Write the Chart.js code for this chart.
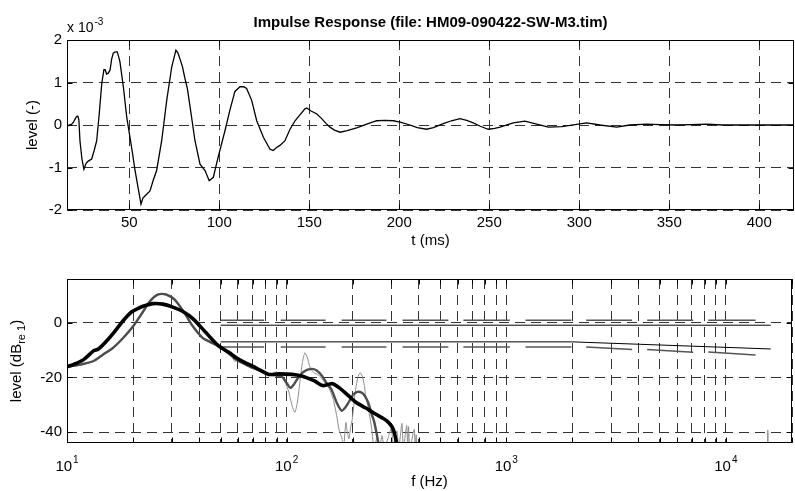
<!DOCTYPE html>
<html><head><meta charset="utf-8">
<script src="https://cdn.jsdelivr.net/npm/chart.js@4/dist/chart.umd.min.js"></script>
<style>
html,body{margin:0;padding:0;background:#fff;}
#top{position:absolute;left:0;top:0;width:795px;height:250px;}
#bot{position:absolute;left:0;top:250px;width:795px;height:241px;}
</style></head><body>
<div id="top"><canvas id="c1"></canvas></div>
<div id="bot"><canvas id="c2"></canvas></div>
<script>
// ---------- top: impulse response (level in units of 10^-3) ----------
const timeMs = [15.4,16.5,18.0,18.9,20.0,20.8,21.4,22.0,22.6,23.7,24.8,26.0,27.2,29.1,30.5,31.9,33.3,34.7,35.9,36.6,37.4,38.3,39.3,40.2,41.1,42.2,43.3,44.0,44.8,46.7,48.6,50.4,51.8,53.2,54.8,56.5,57.6,58.7,61.5,63.3,65.2,68.0,70.8,73.6,75.9,77.0,78.2,79.5,80.9,82.3,83.7,86.5,89.3,92.1,94.4,96.7,99.4,103.2,105.9,108.7,111.5,113.5,115.2,118.0,120.8,124.5,128.2,130.0,131.8,133.7,136.5,139.3,142.1,144.8,147.6,148.6,151.0,154.2,156.9,159.0,161.5,164.0,167.1,171.0,176.3,181.9,187.4,192.0,196.7,201.0,205.9,210.0,215.2,219.0,224.4,229.0,233.7,237.5,241.1,245.0,249.4,253.0,256.0,263.3,269.8,276.3,282.8,290.2,295.0,299.4,304.1,311.5,320.8,328.0,337.4,344.8,354.0,362.0,370.7,380.0,400.0,419.3];
const impulseLevel = [-0.04,0.0,0.02,0.06,0.15,0.2,0.21,0.12,-0.37,-0.8,-1.04,-0.9,-0.85,-0.8,-0.6,-0.37,0.26,0.97,1.3,1.3,1.2,1.22,1.29,1.55,1.69,1.72,1.72,1.62,1.49,0.9,0.18,-0.29,-0.67,-1.07,-1.45,-1.86,-1.72,-1.67,-1.55,-1.3,-1.07,-0.37,0.58,1.37,1.76,1.7,1.55,1.38,1.1,0.85,0.45,-0.37,-0.92,-1.07,-1.31,-1.23,-0.75,-0.13,0.35,0.79,0.9,0.9,0.86,0.58,0.1,-0.29,-0.57,-0.6,-0.53,-0.48,-0.37,-0.1,0.1,0.24,0.38,0.4,0.33,0.26,0.15,0.05,-0.05,-0.12,-0.17,-0.13,-0.07,0.02,0.1,0.11,0.1,0.06,0.0,-0.06,-0.1,-0.06,0.03,0.1,0.15,0.11,0.05,-0.03,-0.1,-0.08,-0.05,0.05,0.09,0.02,-0.05,-0.04,-0.01,0.02,0.05,0.0,-0.05,0.0,0.02,0.01,0.0,0.01,0.02,0.0,0.0,0.0];
const timeTicks = [50,100,150,200,250,300,350,400];
const levelTicks = [-2,-1,0,1,2];

// ---------- bottom: frequency response ----------
const freqRaw = [10,11.5,13.2,14.6,16.2,18,20,22.2,23.8,25.9,28.3,30.9,34.3,37.4,41.5,44.5,48.9,53,56,58,60,63,66,70,74,78,83,87,90,94,98,102,106,109,112,115,118,121,124,128,133,140,148,156,163,169,173,178,182,186,189,192,196,199,203,206,211,216,221,226,229,236,244,250,258,264,272,278,290,300,306,312,318,324,335,340,352,356,359,364,381,385,389,393,420];
const levelRaw = [-16.3,-15.5,-14.2,-11.9,-9.5,-5.9,-1.6,3.7,7.5,10.4,10.6,9.0,3.8,-1.0,-5.3,-6.6,-8.4,-10.5,-12.0,-14.2,-13.4,-14.5,-15.8,-16.2,-16.8,-17.6,-19.4,-18.5,-18.0,-19.5,-21.5,-25,-30.5,-32.8,-29,-21.5,-14.5,-11.0,-12.5,-16.5,-18.3,-19.2,-21.5,-24,-28,-34,-38.9,-42,-45,-36.5,-40,-42.5,-38,-35.3,-29,-24.4,-20,-18.3,-19.5,-23,-26.8,-31.6,-38.9,-46,-42,-46,-41.3,-46,-42,-38.6,-46,-41,-39.6,-46,-36.8,-46,-37.6,-46,-38,-46,-39,-46,-41,-46,-46];
const freqSmooth = [10,11.5,13.2,14.6,16.2,18,20,22.2,23.8,25.9,28.3,30.9,34.3,37.4,41.5,44.5,48.9,55,59,64,70,76,83,90,95.5,100,104,108,113,120,130,137,145,152,160,169,178,185,192,200,210,220,228,236,244,250,258,264];
const levelSmooth = [-16.1,-15.3,-14,-11.6,-9.2,-5.6,-1.3,4.1,7.8,10.3,10.3,8.4,3.5,-1.3,-5.6,-6.9,-8.6,-11.5,-13.5,-15,-16.5,-17.5,-18.9,-19.3,-19.8,-22,-23.8,-22.5,-20.1,-17.8,-16.9,-17.5,-19.5,-22,-24.4,-29.2,-32.2,-31,-29,-26.5,-25.3,-25.6,-27,-29.5,-33.5,-36,-41.3,-46];
const freqOct = [10,10.7,11.9,13.2,13.9,15.1,16.3,17.5,18.6,19.7,21,22.3,24.6,27.3,30.3,33.7,37.4,42.9,48.9,55,59,64,70,76,83,92,106,117,125,134,146,154,162,175,190,206,221,236,254,271,285,297,306,313,320];
const levelOct = [-16.1,-15.3,-13.5,-10.3,-9.6,-6.8,-3.7,-0.5,2.0,4.0,5.2,6.1,7.0,6.8,5.7,4.1,1.5,-3.6,-8.4,-11.0,-12.8,-14.4,-15.9,-17.4,-18.9,-18.7,-18.9,-19.5,-20.3,-21.3,-23.0,-22.6,-22.3,-24.0,-26.5,-29.0,-30.5,-31.8,-33.4,-34.7,-35.8,-37.3,-39.0,-42.0,-46];
const spikeFreq = [15450,15500,15550];
const spikeLevel = [-46,-39.3,-46];
const limitFreq = [50,2000,16000];
const limitUpper = [-0.9,-0.9,-0.9];
const limitLower = [-7,-7,-9.6];
const bandStart = [50,94,178,337,638,1224,2312,4380,8318];
const bandEnd = [79,150.5,284.6,545,1038,1980,3743,7100,13650];
const bandUpper = [0.9,0.9,0.9,0.9,0.9,0.9,0.9,0.9,0.9];
const bandLowerStart = [-8.9,-8.9,-8.9,-8.9,-8.9,-8.9,-8.9,-9.8,-10.7];
const bandLowerEnd = [-8.9,-8.9,-8.9,-8.9,-8.9,-8.9,-9.8,-10.8,-11.8];
const freqTicks = [10,20,30,40,50,60,70,80,90,100,200,300,400,500,600,700,800,900,1000,2000,3000,4000,5000,6000,7000,8000,9000,10000,20000];
const decadeTicks = [10,100,1000,10000];
const decadeExp = ['1','2','3','4'];
const dbTicks = [-40,-20,0];

const FONT = "'Liberation Sans', Arial, Helvetica, sans-serif";
Chart.defaults.font.family = FONT;
Chart.defaults.font.size = 15;
Chart.defaults.color = '#000';
const GRID = '#333';
const DASH = [10, 6];

const pts = (xs, ys) => xs.map((x, i) => ({x: x, y: ys[i]}));
function segs(starts, ends, y0, y1) {
  const out = [];
  starts.forEach((s, i) => { out.push({x: s, y: y0[i]}, {x: ends[i], y: y1[i]}, {x: ends[i], y: null}); });
  return out;
}

function drawBoxAndTicks(chart) {
  const {ctx, chartArea: a, scales} = chart;
  const L = Math.round(a.left) + 0.5, R = Math.round(a.right) - 0.5;
  const T = Math.round(a.top) + 0.5, B = Math.round(a.bottom) - 0.5;
  ctx.save();
  ctx.strokeStyle = '#000';
  ctx.lineWidth = 1;
  ctx.setLineDash([]);
  ctx.beginPath();
  scales.x.ticks.forEach(t => {
    const px = Math.round(scales.x.getPixelForValue(t.value)) + 0.5;
    ctx.moveTo(px, B); ctx.lineTo(px, B - 5);
    ctx.moveTo(px, T); ctx.lineTo(px, T + 5);
  });
  scales.y.ticks.forEach(t => {
    const py = Math.round(scales.y.getPixelForValue(t.value)) + 0.5;
    ctx.moveTo(L, py); ctx.lineTo(L + 5, py);
    ctx.moveTo(R, py); ctx.lineTo(R - 5, py);
  });
  ctx.stroke();
  ctx.strokeRect(L, T, R - L, B - T);
  ctx.restore();
}

const topPlugin = {
  id: 'topDeco',
  afterDraw(chart) {
    drawBoxAndTicks(chart);
    const {ctx, chartArea: a} = chart;
    ctx.save();
    ctx.fillStyle = '#000';
    ctx.textBaseline = 'alphabetic';
    ctx.textAlign = 'left';
    ctx.font = '14px ' + FONT;
    const base = 'x 10';
    ctx.fillText(base, a.left, a.top - 8);
    const w = ctx.measureText(base).width;
    ctx.font = '10px ' + FONT;
    ctx.fillText('-3', a.left + w + 1, a.top - 15);
    ctx.restore();
  }
};

const botPlugin = {
  id: 'botDeco',
  afterDraw(chart) {
    drawBoxAndTicks(chart);
    const {ctx, chartArea: a, scales} = chart;
    ctx.save();
    ctx.fillStyle = '#000';
    ctx.textBaseline = 'alphabetic';
    ctx.textAlign = 'left';
    decadeTicks.forEach((v, i) => {
      const px = scales.x.getPixelForValue(v);
      ctx.font = '15px ' + FONT;
      const w1 = ctx.measureText('10').width;
      ctx.font = '10px ' + FONT;
      const w2 = ctx.measureText(decadeExp[i]).width;
      const x0 = px - (w1 + w2 + 1) / 2;
      ctx.font = '15px ' + FONT;
      ctx.fillText('10', x0, a.bottom + 27.5);
      ctx.font = '10px ' + FONT;
      ctx.fillText(decadeExp[i], x0 + w1 + 1, a.bottom + 20);
    });
    // y axis title with subscript
    const yc = (a.top + a.bottom) / 2;
    ctx.translate(21, yc);
    ctx.rotate(-Math.PI / 2);
    ctx.font = '15px ' + FONT;
    const t1 = 'level (dB', t3 = ')';
    const w1 = ctx.measureText(t1).width, w3 = ctx.measureText(t3).width;
    ctx.font = '11px ' + FONT;
    const t2 = 're 1';
    const w2 = ctx.measureText(t2).width;
    let x = -(w1 + w2 + w3) / 2;
    ctx.font = '15px ' + FONT;
    ctx.fillText(t1, x, 0);
    ctx.font = '11px ' + FONT;
    ctx.fillText(t2, x + w1, 3.5);
    ctx.font = '15px ' + FONT;
    ctx.fillText(t3, x + w1 + w2, 0);
    ctx.restore();
  }
};

new Chart(document.getElementById('c1'), {
  type: 'line',
  data: { datasets: [{ data: pts(timeMs, impulseLevel), borderColor: '#000', borderWidth: 1.3, pointRadius: 0, tension: 0, clip: 0 }] },
  options: {
    animation: false, responsive: true, maintainAspectRatio: false,
    layout: { padding: { left: 0, right: 1, top: 0, bottom: 0 } },
    plugins: {
      legend: { display: false }, tooltip: { enabled: false },
      title: { display: true, text: 'Impulse Response (file: HM09-090422-SW-M3.tim)', fullSize: false,
               font: { size: 15, weight: 'bold' }, color: '#000', padding: { top: 14, bottom: 8 } }
    },
    scales: {
      x: {
        type: 'linear', min: 15.4, max: 419.3,
        afterBuildTicks: s => { s.ticks = timeTicks.map(v => ({ value: v })); },
        afterFit: s => { s.height = 40; },
        ticks: { padding: 4, autoSkip: false, maxRotation: 0, color: '#000', callback: v => String(v) },
        grid: { color: GRID, lineWidth: 1, drawTicks: false },
        border: { display: false, dash: DASH },
        title: { display: true, text: 't (ms)', color: '#000', font: { size: 15 }, padding: { top: 0, bottom: 0 } }
      },
      y: {
        type: 'linear', min: -2, max: 2,
        afterBuildTicks: s => { s.ticks = levelTicks.map(v => ({ value: v })); },
        afterFit: s => { s.width = 67; },
        ticks: { padding: 5, color: '#000', callback: v => String(v) },
        grid: { color: GRID, lineWidth: 1, drawTicks: false },
        border: { display: false, dash: DASH },
        title: { display: true, text: 'level (-)', color: '#000', font: { size: 15 }, padding: { top: 23.5, bottom: 0 } }
      }
    }
  },
  plugins: [topPlugin]
});

new Chart(document.getElementById('c2'), {
  type: 'line',
  data: { datasets: [
    { data: pts(freqOct, levelOct), borderColor: '#000', borderWidth: 3.6, pointRadius: 0, tension: 0.3, clip: 0 },
    { data: pts(freqSmooth, levelSmooth), borderColor: '#4d4d4d', borderWidth: 2.4, pointRadius: 0, tension: 0.3, clip: 0 },
    { data: pts(freqRaw, levelRaw), borderColor: '#8c8c8c', borderWidth: 1, pointRadius: 0, tension: 0.2, clip: 0 },
    { data: pts(spikeFreq, spikeLevel), borderColor: '#8c8c8c', borderWidth: 1, pointRadius: 0, tension: 0, clip: 0 },
    { data: pts(limitFreq, limitUpper), borderColor: '#000', borderWidth: 1, pointRadius: 0, tension: 0, clip: 0 },
    { data: pts(limitFreq, limitLower), borderColor: '#000', borderWidth: 1, pointRadius: 0, tension: 0, clip: 0 },
    { data: segs(bandStart, bandEnd, bandUpper, bandUpper), borderColor: '#555', borderWidth: 1.5, pointRadius: 0, tension: 0, spanGaps: false, clip: 0 },
    { data: segs(bandStart, bandEnd, bandLowerStart, bandLowerEnd), borderColor: '#555', borderWidth: 1.5, pointRadius: 0, tension: 0, spanGaps: false, clip: 0 }
  ] },
  options: {
    animation: false, responsive: true, maintainAspectRatio: false,
    layout: { padding: { left: 0, right: 1, top: 29, bottom: 0 } },
    plugins: { legend: { display: false }, tooltip: { enabled: false } },
    scales: {
      x: {
        type: 'logarithmic', min: 10, max: 20000,
        afterBuildTicks: s => { s.ticks = freqTicks.map(v => ({ value: v })); },
        afterFit: s => { s.height = 48; },
        ticks: { autoSkip: false, maxRotation: 0, callback: () => '' },
        grid: { color: GRID, lineWidth: 1, drawTicks: false },
        border: { display: false, dash: DASH },
        title: { display: true, text: 'f (Hz)', color: '#000', font: { size: 15 }, padding: { top: 0, bottom: 0 } }
      },
      y: {
        type: 'linear', min: -44, max: 16,
        afterBuildTicks: s => { s.ticks = dbTicks.map(v => ({ value: v })); },
        afterFit: s => { s.width = 67; },
        ticks: { padding: 5, color: '#000', callback: v => String(v) },
        grid: { color: GRID, lineWidth: 1, drawTicks: false },
        border: { display: false, dash: DASH }
      }
    }
  },
  plugins: [botPlugin]
});
</script></body></html>
